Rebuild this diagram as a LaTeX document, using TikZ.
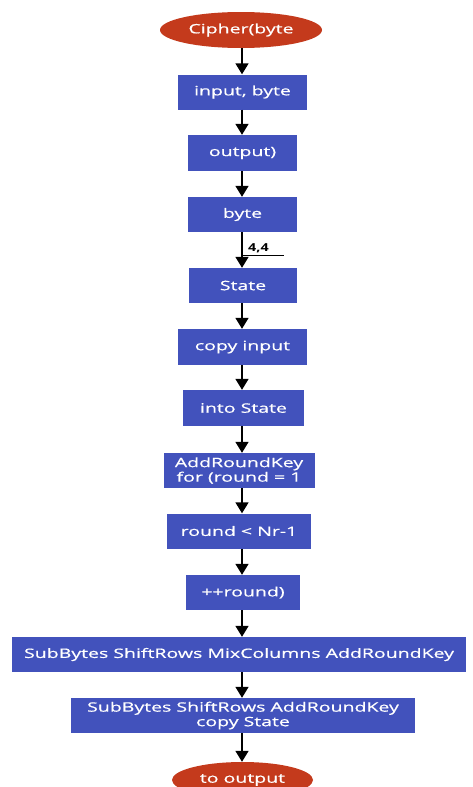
\documentclass[tikz,border=0pt]{standalone}
\usepackage{fontspec}
\setmainfont{Open Sans}
\newfontfamily\boxfont[FakeStretch=1.5,FakeBold=0.6]{Open Sans}
\newfontfamily\lblfont[FakeStretch=1.3]{Open Sans}
\usetikzlibrary{arrows.meta,shapes.geometric}
\definecolor{boxblue}{RGB}{66,82,188}
\definecolor{termred}{RGB}{196,58,28}
\tikzset{
  stepbox/.style={rectangle, fill=boxblue, text=white, align=center, inner sep=0pt,
    font=\boxfont\fontsize{13pt}{14.5pt}\selectfont},
  term/.style={ellipse, fill=termred, text=white, inner sep=0pt,
    font=\boxfont\fontsize{13pt}{14.5pt}\selectfont},
  arr/.style={line width=1.7pt, -{Triangle[width=13pt,length=11pt]}},
}
\begin{document}
\begin{tikzpicture}[x=1pt,y=-1pt]
\clip (0,0) rectangle (472,787);
\fill[white] (0,0) rectangle (472,787);
\coordinate (axis) at (242,0);
\node[term, minimum width=162pt, minimum height=36pt] (c1) at (241,30) {Cipher(byte};
\node[stepbox, minimum width=129pt, minimum height=35pt] (b1) at (242.5,92) {input, byte};
\node[stepbox, minimum width=109pt, minimum height=36pt] (b2) at (242.5,153) {output)};
\node[stepbox, minimum width=109pt, minimum height=35pt] (b3) at (242.5,214.5) {byte};
\node[stepbox, minimum width=108pt, minimum height=35pt] (b4) at (243,285.5) {State};
\node[stepbox, minimum width=129pt, minimum height=36pt] (b5) at (242.5,347) {copy input};
\node[stepbox, minimum width=121pt, minimum height=36pt] (b6) at (243.5,408) {into State};
\node[stepbox, minimum width=151pt, minimum height=35pt] (b7) at (239,470.5) {AddRoundKey\\for (round = 1};
\node[stepbox, minimum width=144pt, minimum height=35pt] (b8) at (239,531) {round < Nr-1};
\node[stepbox, minimum width=114pt, minimum height=35pt] (b9) at (243,592.5) {++round)};
\node[stepbox, minimum width=454pt, minimum height=35pt] (b10) at (239,654.5) {SubBytes ShiftRows MixColumns AddRoundKey};
\node[stepbox, minimum width=344pt, minimum height=35pt] (b11) at (243,715.5) {SubBytes ShiftRows AddRoundKey\\copy State};
\node[term, minimum width=141pt, minimum height=36pt] (c2) at (242.5,780) {to output};
\foreach \a/\b in {c1/b1,b1/b2,b2/b3,b3/b4,b4/b5,b5/b6,b6/b7,b7/b8,b8/b9,b9/b10,b10/b11,b11/c2}
  \draw[arr] (axis |- \a.south) -- (axis |- \b.north);
\node[anchor=south west, text width=31pt, align=left, inner xsep=5pt, inner ysep=1.5pt,
  font=\lblfont\bfseries\fontsize{11pt}{12pt}\selectfont] (l44) at (243,255) {4,4};
\draw[line width=0.8pt] (l44.south west) -- (l44.south east);
\end{tikzpicture}
\end{document}
